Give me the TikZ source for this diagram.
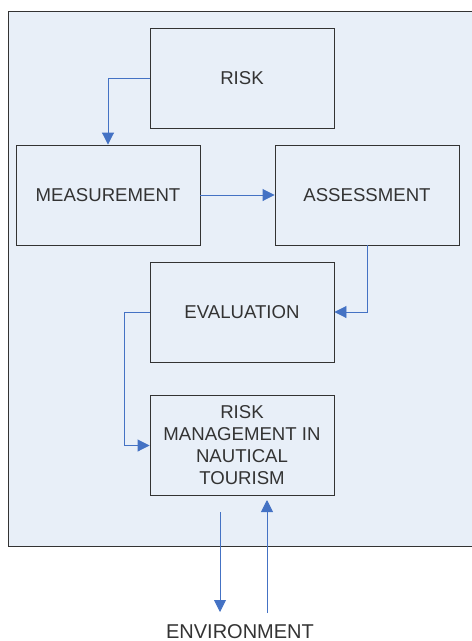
\documentclass[tikz,border=0pt]{standalone}
\usepackage{fontspec}
\setmainfont{Liberation Sans}
\usetikzlibrary{arrows.meta}
\definecolor{panelfill}{RGB}{232,239,248}
\definecolor{flowblue}{RGB}{68,114,196}
\definecolor{edgegray}{RGB}{51,51,51}
\tikzset{
  stagebox/.style={draw=edgegray, line width=0.9pt, minimum width=184pt, minimum height=100pt,
    align=center, font=\fontsize{18.6}{22}\selectfont, text=edgegray},
  flow/.style={draw=flowblue, line width=0.9pt, -{Triangle[length=12pt,width=12pt]}}
}
\begin{document}
\begin{tikzpicture}[x=1pt,y=-1pt]
\useasboundingbox (0,0) rectangle (472,641);
\clip (0,0) rectangle (472,641);
\draw [draw=edgegray, line width=0.9pt, fill=panelfill] (8,11) rectangle (490,546);
\node [stagebox] (risk) at (242,78) {RISK};
\node [stagebox] (meas) at (108,195) {MEASUREMENT};
\node [stagebox] (assess) at (367,195) {ASSESSMENT};
\node [stagebox] (eval) at (242,312) {EVALUATION};
\node [stagebox] (mgmt) at (242,445.5) {RISK\\MANAGEMENT IN\\NAUTICAL\\TOURISM};
\node [anchor=base, font=\fontsize{20}{24}\selectfont, text=edgegray] (env) at (240,638.5) {ENVIRONMENT};
\coordinate (outtop) at (220,512);
\coordinate (outbot) at (220,612);
\coordinate (inbot) at (267,613);
\coordinate (intop) at (267,500);
\draw [flow] (risk.west) -| (meas.north);
\draw [flow] (meas.east) -- (assess.west);
\draw [flow] (assess.south) |- (eval.east);
\draw [flow] (eval.west) -- ++(-25,0) |- (mgmt.west);
\draw [flow] (outtop) -- (outbot);
\draw [flow] (inbot) -- (intop);
\end{tikzpicture}
\end{document}
